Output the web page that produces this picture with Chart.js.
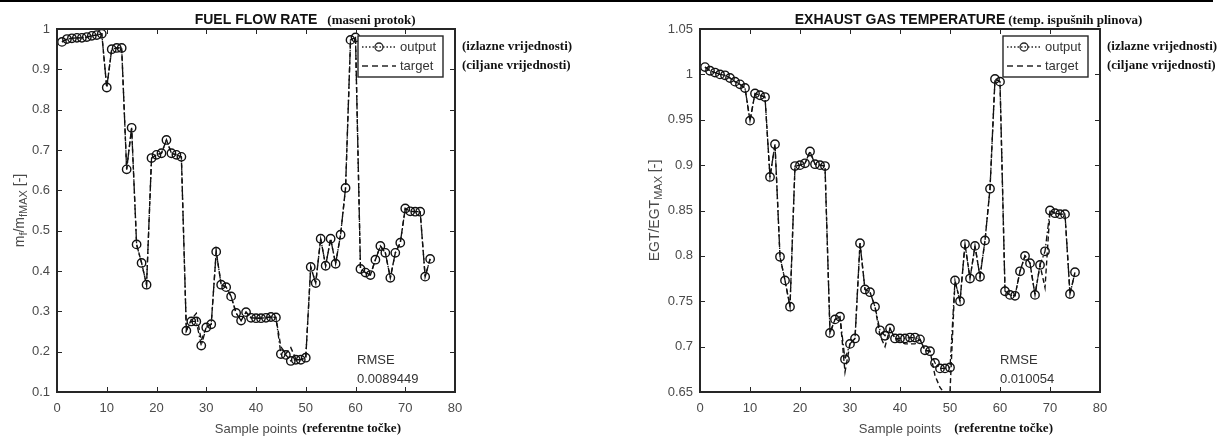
<!DOCTYPE html>
<html>
<head>
<meta charset="utf-8">
<script src="https://cdn.jsdelivr.net/npm/chart.js@4.4.1/dist/chart.umd.min.js"></script>
<style>
  html, body { margin: 0; padding: 0; background: #fff; }
  #wrap { position: relative; width: 1225px; height: 436px; overflow: hidden; }
  #topLine { position: absolute; left: 0; top: 0; width: 1213px; height: 2px; background: #000; }
  canvas { position: absolute; top: 0; }
  #fuelChart { left: 0; }
  #egtChart { left: 612px; }
</style>
</head>
<body>
<div id="wrap">
  <canvas id="fuelChart" width="612" height="436" style="width:612px;height:436px"></canvas>
  <canvas id="egtChart" width="612" height="436" style="width:612px;height:436px"></canvas>
  <div id="topLine"></div>
</div>
<script>
// sample indices (x axis)
const samplePoints = [1, 2, 3, 4, 5, 6, 7, 8, 9, 10, 11, 12, 13, 14, 15, 16, 17, 18, 19, 20,
  21, 22, 23, 24, 25, 26, 27, 28, 29, 30, 31, 32, 33, 34, 35, 36, 37, 38, 39, 40,
  41, 42, 43, 44, 45, 46, 47, 48, 49, 50, 51, 52, 53, 54, 55, 56, 57, 58, 59, 60,
  61, 62, 63, 64, 65, 66, 67, 68, 69, 70, 71, 72, 73, 74, 75];

// fuel flow rate mf/mfMAX
const fuelOutput = [0.968, 0.975, 0.977, 0.978, 0.978, 0.980, 0.983, 0.985, 0.988, 0.855,
  0.950, 0.953, 0.953, 0.652, 0.755, 0.466, 0.420, 0.366, 0.680, 0.688,
  0.692, 0.725, 0.692, 0.688, 0.683, 0.252, 0.275, 0.275, 0.215, 0.260,
  0.268, 0.448, 0.366, 0.360, 0.337, 0.296, 0.277, 0.298, 0.284, 0.283,
  0.283, 0.284, 0.286, 0.285, 0.194, 0.192, 0.177, 0.180, 0.180, 0.185,
  0.410, 0.370, 0.480, 0.413, 0.480, 0.418, 0.490, 0.606, 0.973, 0.979,
  0.405, 0.396, 0.390, 0.428, 0.462, 0.445, 0.383, 0.445, 0.470, 0.555,
  0.548, 0.547, 0.547, 0.386, 0.430];
const fuelTarget = [0.968, 0.975, 0.977, 0.978, 0.978, 0.980, 0.983, 0.985, 0.988, 0.855,
  0.950, 0.953, 0.953, 0.652, 0.755, 0.466, 0.420, 0.366, 0.680, 0.688,
  0.692, 0.725, 0.692, 0.688, 0.683, 0.252, 0.280, 0.295, 0.228, 0.260,
  0.268, 0.448, 0.366, 0.360, 0.337, 0.296, 0.277, 0.298, 0.284, 0.283,
  0.283, 0.284, 0.286, 0.285, 0.212, 0.195, 0.210, 0.182, 0.180, 0.185,
  0.410, 0.370, 0.480, 0.413, 0.480, 0.418, 0.490, 0.606, 0.973, 0.979,
  0.405, 0.396, 0.390, 0.428, 0.462, 0.445, 0.383, 0.445, 0.470, 0.555,
  0.548, 0.547, 0.547, 0.386, 0.430];

// exhaust gas temperature EGT/EGTMAX
const egtOutput = [1.008, 1.004, 1.002, 1.000, 0.999, 0.996, 0.992, 0.989, 0.985, 0.949,
  0.979, 0.977, 0.975, 0.887, 0.923, 0.799, 0.773, 0.744, 0.899, 0.900,
  0.902, 0.915, 0.901, 0.900, 0.899, 0.715, 0.730, 0.733, 0.686, 0.703,
  0.709, 0.814, 0.763, 0.760, 0.744, 0.718, 0.712, 0.720, 0.709, 0.709,
  0.709, 0.710, 0.710, 0.708, 0.696, 0.695, 0.682, 0.676, 0.676, 0.677,
  0.773, 0.750, 0.813, 0.775, 0.811, 0.777, 0.817, 0.874, 0.995, 0.992,
  0.761, 0.757, 0.756, 0.783, 0.800, 0.792, 0.757, 0.790, 0.805, 0.850,
  0.847, 0.846, 0.846, 0.758, 0.782];
const egtTarget = [1.008, 1.004, 1.002, 1.000, 0.999, 0.996, 0.992, 0.989, 0.985, 0.949,
  0.979, 0.977, 0.975, 0.887, 0.923, 0.799, 0.773, 0.744, 0.899, 0.900,
  0.902, 0.915, 0.901, 0.900, 0.899, 0.715, 0.730, 0.733, 0.672, 0.703,
  0.709, 0.814, 0.763, 0.760, 0.744, 0.712, 0.700, 0.720, 0.709, 0.706,
  0.703, 0.703, 0.703, 0.708, 0.696, 0.695, 0.668, 0.655, 0.648, 0.650,
  0.773, 0.750, 0.813, 0.775, 0.811, 0.777, 0.817, 0.874, 0.995, 0.992,
  0.761, 0.757, 0.756, 0.783, 0.800, 0.792, 0.757, 0.790, 0.765, 0.850,
  0.847, 0.846, 0.846, 0.758, 0.782];

// tick values
const xTicks = [0, 10, 20, 30, 40, 50, 60, 70, 80];
const fuelYTicks = [0.1, 0.2, 0.3, 0.4, 0.5, 0.6, 0.7, 0.8, 0.9, 1];
const egtYTicks = [0.65, 0.7, 0.75, 0.8, 0.85, 0.9, 0.95, 1, 1.05];

const SANS = '"Liberation Sans", Arial, sans-serif';
const SERIF = '"Liberation Serif", "Times New Roman", serif';
const INK = '#262626';
const LABEL = '#4a4a4a';

function toXY(vals) {
  return vals.map((v, i) => ({ x: samplePoints[i], y: v }));
}

// draws the matlab style box, inner ticks, legend and all the extra texts
const matlabDecor = {
  id: 'matlabDecor',
  afterDatasetsDraw(chart, args, o) {
    const ctx = chart.ctx;
    const a = chart.chartArea;
    const xs = chart.scales.x, ys = chart.scales.y;
    ctx.save();

    // inner tick marks on all four sides
    ctx.strokeStyle = INK;
    ctx.lineWidth = 1;
    ctx.beginPath();
    xs.ticks.forEach(t => {
      const px = Math.round(xs.getPixelForValue(t.value)) + 0.5;
      ctx.moveTo(px, a.bottom); ctx.lineTo(px, a.bottom - 5);
      ctx.moveTo(px, a.top); ctx.lineTo(px, a.top + 5);
    });
    ys.ticks.forEach(t => {
      const py = Math.round(ys.getPixelForValue(t.value)) + 0.5;
      ctx.moveTo(a.left, py); ctx.lineTo(a.left + 5, py);
      ctx.moveTo(a.right, py); ctx.lineTo(a.right - 5, py);
    });
    ctx.stroke();

    // frame
    ctx.lineWidth = 2;
    ctx.strokeRect(a.left, a.top, a.right - a.left, a.bottom - a.top);

    // legend box
    const lx = a.right - 12 - 85, ly = a.top + 7, lw = 85, lh = 41;
    ctx.fillStyle = '#fff';
    ctx.fillRect(lx, ly, lw, lh);
    ctx.lineWidth = 1.4;
    ctx.strokeStyle = INK;
    ctx.strokeRect(lx, ly, lw, lh);
    const r1 = ly + 11, r2 = ly + 30;
    ctx.lineWidth = 1.3;
    ctx.setLineDash([1.5, 2]);
    ctx.beginPath(); ctx.moveTo(lx + 4, r1); ctx.lineTo(lx + 38, r1); ctx.stroke();
    ctx.setLineDash([]);
    ctx.beginPath(); ctx.arc(lx + 21, r1, 4, 0, Math.PI * 2); ctx.stroke();
    ctx.setLineDash([6, 4]);
    ctx.beginPath(); ctx.moveTo(lx + 4, r2); ctx.lineTo(lx + 38, r2); ctx.stroke();
    ctx.setLineDash([]);
    ctx.fillStyle = '#333';
    ctx.font = '13px ' + SANS;
    ctx.textBaseline = 'middle';
    ctx.textAlign = 'left';
    ctx.fillText('output', lx + 42, r1);
    ctx.fillText('target', lx + 42, r2);

    // legend notes to the right of the axes
    ctx.fillStyle = '#111';
    ctx.font = 'bold 13px ' + SERIF;
    ctx.fillText('(izlazne vrijednosti)', a.right + 7, r1);
    ctx.fillText('(ciljane vrijednosti)', a.right + 7, r2);

    // RMSE
    ctx.fillStyle = '#333';
    ctx.font = '13px ' + SANS;
    ctx.fillText('RMSE', a.left + 300, 360);
    ctx.fillText(o.rmse, a.left + 300, 379);

    // title
    const cx = (a.left + a.right) / 2;
    ctx.textBaseline = 'alphabetic';
    ctx.textAlign = 'center';
    ctx.fillStyle = '#111';
    ctx.font = 'bold 14px ' + SANS;
    ctx.fillText(o.title, cx, 24);
    const tw = ctx.measureText(o.title).width;
    ctx.textAlign = 'left';
    ctx.font = 'bold 13px ' + SERIF;
    ctx.fillText(o.titleNote, cx + tw / 2 + o.titleGap, 24);

    // x axis title
    ctx.textBaseline = 'middle';
    ctx.textAlign = 'center';
    ctx.fillStyle = LABEL;
    ctx.font = '13px ' + SANS;
    ctx.fillText('Sample points', cx, 429);
    const sw = ctx.measureText('Sample points').width;
    ctx.textAlign = 'left';
    ctx.fillStyle = '#111';
    ctx.font = 'bold 13px ' + SERIF;
    ctx.fillText('(referentne točke)', cx + sw / 2 + o.xNoteGap, 429);

    // y axis title with subscripts, rotated
    ctx.translate(o.yTitleX, (a.top + a.bottom) / 2);
    ctx.rotate(-Math.PI / 2);
    const main = '14px ' + SANS, sub = '11px ' + SANS;
    let total = 0;
    o.yTitle.forEach(p => { ctx.font = p.sub ? sub : main; total += ctx.measureText(p.t).width; });
    let px = -total / 2;
    ctx.fillStyle = LABEL;
    ctx.textAlign = 'left';
    o.yTitle.forEach(p => {
      ctx.font = p.sub ? sub : main;
      ctx.fillText(p.t, px, p.sub ? 4 : 0);
      px += ctx.measureText(p.t).width;
    });

    ctx.restore();
  }
};

function makePanel(id, output, target, yMin, yMax, yTicks, padLeft, padRight, decor) {
  return new Chart(document.getElementById(id), {
    type: 'line',
    data: {
      datasets: [{
        label: 'output',
        data: toXY(output),
        borderColor: '#111',
        borderWidth: 1.3,
        borderDash: [6, 2.5, 1.5, 2.5],
        pointRadius: 4.2,
        pointBorderColor: '#111',
        pointBackgroundColor: 'rgba(0,0,0,0)',
        pointBorderWidth: 1.4,
        tension: 0
      }, {
        label: 'target',
        data: toXY(target),
        borderColor: '#111',
        borderWidth: 1.4,
        borderDash: [5, 3],
        pointRadius: 0,
        tension: 0
      }]
    },
    options: {
      responsive: false,
      animation: false,
      events: [],
      layout: { padding: { left: padLeft, right: padRight, top: 29, bottom: 14 } },
      plugins: {
        legend: { display: false },
        tooltip: { enabled: false },
        matlabDecor: decor
      },
      scales: {
        x: {
          type: 'linear', min: 0, max: 80,
          afterBuildTicks: s => { s.ticks = xTicks.map(v => ({ value: v })); },
          afterFit: s => { s.height = 30; },
          grid: { display: false, drawTicks: false },
          border: { display: false },
          ticks: { autoSkip: false, maxRotation: 0, padding: 9, color: LABEL, font: { family: SANS, size: 13 } }
        },
        y: {
          type: 'linear', min: yMin, max: yMax,
          afterBuildTicks: s => { s.ticks = yTicks.map(v => ({ value: v })); },
          afterFit: s => { s.width = 45; },
          grid: { display: false, drawTicks: false },
          border: { display: false },
          ticks: {
            autoSkip: false, padding: 7, color: LABEL, font: { family: SANS, size: 13 },
            callback: v => String(Number(v.toFixed(2)))
          }
        }
      }
    },
    plugins: [matlabDecor]
  });
}

makePanel('fuelChart', fuelOutput, fuelTarget, 0.1, 1, fuelYTicks, 12, 157, {
  title: 'FUEL FLOW RATE', titleNote: '(maseni protok)', titleGap: 10, xNoteGap: 5,
  rmse: '0.0089449', yTitleX: 20,
  yTitle: [{ t: 'm' }, { t: 'f', sub: true }, { t: '/m' }, { t: 'fMAX', sub: true }, { t: ' [-]' }]
});

makePanel('egtChart', egtOutput, egtTarget, 0.65, 1.05, egtYTicks, 43, 124, {
  title: 'EXHAUST GAS TEMPERATURE', titleNote: '(temp. ispušnih plinova)', titleGap: 3, xNoteGap: 13,
  rmse: '0.010054', yTitleX: 43,
  yTitle: [{ t: 'EGT/EGT' }, { t: 'MAX', sub: true }, { t: ' [-]' }]
});
</script>
</body>
</html>
